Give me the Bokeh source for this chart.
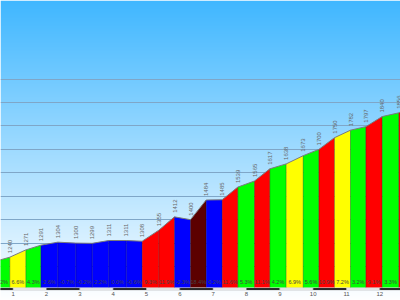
import numpy as np
from bokeh.plotting import figure
from bokeh.models import Range1d, FixedTicker
from bokeh.embed import file_html
from bokeh.resources import INLINE
from bokeh.core.properties import value

# ---- data ----
seg_km = [0.41, 0.90, 1.38, 1.83, 2.34, 2.88, 3.37, 3.87, 4.39, 4.87, 5.37, 5.84, 6.32,
          6.79, 7.27, 7.74, 8.24, 8.70, 9.19, 9.70, 10.17, 10.64, 11.12, 11.58, 12.07,
          12.57, 13.06]
elev_m = [1220, 1240, 1271, 1291, 1304, 1300, 1299, 1311, 1311, 1308, 1355, 1412, 1400,
          1484, 1485, 1539, 1565, 1617, 1638, 1673, 1700, 1750, 1782, 1797, 1840,
          1856, 1900]
grad_pct = [4.2, 6.6, 4.3, 2.6, -0.7, -0.2, 2.2, 0.0, -0.6, 9.3, 11.9, -2.3, 18.4, 0.2,
            11.6, 5.3, 11.1, 4.2, 6.9, 5.6, 10.9, 7.2, 3.2, 9.1, 3.3, 9.0]
km_ticks = list(range(0, 14))
km_labels = [str(k) for k in range(1, 13)]
grid_elev = list(range(1100, 2100, 100))

BASE = 1110
X0, X1 = 0.62, 12.62
Y0, Y1 = 1055, 2335.5
FONT = value("Liberation Sans")


def grad_color(g):
    if g < 3:
        return "#0000FF"
    if g < 6:
        return "#00FF00"
    if g < 9:
        return "#FFFF00"
    if g < 15:
        return "#FF0000"
    return "#5C0000"


p = figure(width=400, height=300, x_range=Range1d(X0, X1),
           y_range=Range1d(Y0, Y1), output_backend="svg",
           toolbar_location=None, min_border=0)
p.axis.visible = False
p.outline_line_color = None
p.xgrid.visible = False
p.ygrid.ticker = FixedTicker(ticks=grid_elev)
p.ygrid.grid_line_color = "#7FA6C8"
p.ygrid.grid_line_width = 1

# sky gradient background (single image, bottom row first)
n = 300
img = np.empty((n, 2), dtype=np.uint32)
view = img.view(dtype=np.uint8).reshape((n, 2, 4))
top_c = np.array([64, 183, 255])
bot_c = np.array([255, 255, 255])
for i in range(n):
    t = 1 - (i + 0.5) / n  # i=0 is bottom
    c = (top_c + (bot_c - top_c) * t).astype(np.uint8)
    view[i, :, 0:3] = c
    view[i, :, 3] = 255
p.image_rgba(image=[img], x=X0, y=Y0, dw=X1 - X0, dh=Y1 - Y0, level="image")

# profile segments
xs, ys, fc = [], [], []
for i in range(len(grad_pct)):
    x0, x1 = seg_km[i], seg_km[i + 1]
    e0, e1 = elev_m[i], elev_m[i + 1]
    xs.append([x0, x0, x1, x1])
    ys.append([BASE, e0, e1, BASE])
    fc.append(grad_color(grad_pct[i]))
p.patches(xs, ys, fill_color=fc, line_color=None)
p.segment(x0=seg_km, y0=[BASE] * len(seg_km), x1=seg_km, y1=elev_m,
          line_color="black", line_alpha=0.35, line_width=0.8)
p.line(seg_km, elev_m, line_color="#7a7a7a", line_width=1)

# gradient labels (those whose segment centre is inside the view)
mids = [(seg_km[i] + seg_km[i + 1]) / 2 for i in range(len(grad_pct))]
gi = [i for i in range(len(grad_pct)) if X0 <= mids[i] <= X1]
p.text(x=[mids[i] for i in gi], y=[1132] * len(gi),
       text=["%.1f%%" % grad_pct[i] for i in gi],
       text_font=FONT, text_font_size="5.5px", text_align="center",
       text_baseline="middle", text_color="#444444")

# elevation labels (points inside the view)
ei = [i for i in range(len(seg_km)) if X0 <= seg_km[i] <= X1]
p.text(x=[seg_km[i] for i in ei], y=[elev_m[i] for i in ei],
       text=[str(elev_m[i]) for i in ei], angle=np.pi / 2,
       text_font=FONT, text_font_size="6px", text_align="left",
       text_baseline="middle", text_color="#666666", y_offset=-4)

# km strip
kl = km_ticks[:-1]
kr = km_ticks[1:]
kc = ["black" if k % 2 == 0 else "white" for k in kl]
p.quad(left=kl, right=kr, bottom=1100, top=1108, fill_color=kc,
       line_color="#999999", line_width=0.5)
p.text(x=list(range(1, 13)), y=[1084] * len(km_labels),
       text=km_labels, text_font=FONT, text_font_size="6px",
       text_align="center", text_baseline="middle", text_color="#555555")

open("out.html", "w").write(file_html(p, INLINE))
